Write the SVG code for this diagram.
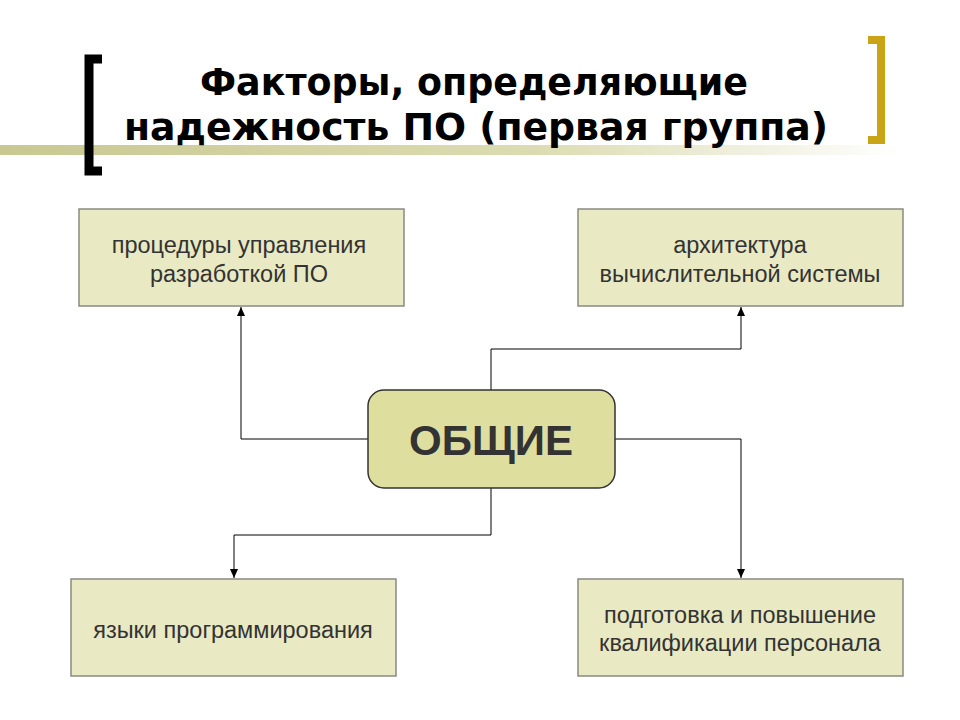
<svg xmlns="http://www.w3.org/2000/svg" width="960" height="720" viewBox="0 0 960 720">
<defs>
<linearGradient id="g" x1="0" x2="1" y1="0" y2="0"><stop offset="0" stop-color="#c8c890"/><stop offset="0.6" stop-color="#dcdcb4"/><stop offset="1" stop-color="#ffffff"/></linearGradient>
<marker id="a" markerWidth="10" markerHeight="10" refX="9" refY="5" orient="auto" markerUnits="userSpaceOnUse"><path d="M0,1 L9,5 L0,9 z" fill="#000"/></marker>
<style>
.box{fill:#e9e9c4;stroke:#8a8a80;stroke-width:1.5}
.t{font-family:"Liberation Sans",Arial,sans-serif;font-size:23.5px;fill:#333;text-anchor:middle}
.c{fill:none;stroke:#000;stroke-width:1;marker-end:url(#a)}
.h{font-family:"DejaVu Sans Condensed","DejaVu Sans",sans-serif;font-weight:bold;font-size:37px;fill:#000}
</style>
</defs>
<rect width="960" height="720" fill="#fff"/>
<rect x="0" y="145" width="900" height="10" fill="url(#g)"/>
<path d="M102,59 H89 V171 H102" fill="none" stroke="#000" stroke-width="9"/>
<path d="M868,40 H881 V140 H868" fill="none" stroke="#c9a417" stroke-width="8"/>
<text class="h" x="200" y="95" textLength="548" lengthAdjust="spacingAndGlyphs">Факторы, определяющие</text>
<text class="h" x="124" y="140" textLength="704" lengthAdjust="spacingAndGlyphs">надежность ПО (первая группа)</text>
<g id="connectors">
<path class="c" d="M368,439 H241 V307"/>
<path class="c" d="M491,390 V349 H741 V307"/>
<path class="c" d="M615,439 H741 V578"/>
<path class="c" d="M491,488 V535 H234 V578"/>
</g>
<g id="n1"><rect class="box" x="79" y="209" width="325" height="97"/><text class="t" x="239" y="253">процедуры управления</text><text class="t" x="239" y="282">разработкой ПО</text></g>
<g id="n2"><rect class="box" x="578" y="209" width="325" height="97"/><text class="t" x="740" y="253">архитектура</text><text class="t" x="740" y="282">вычислительной системы</text></g>
<g id="n3"><rect class="box" x="71" y="579" width="325" height="97"/><text class="t" x="233" y="638">языки программирования</text></g>
<g id="n4"><rect class="box" x="578" y="579" width="325" height="97"/><text class="t" x="740" y="623">подготовка и повышение</text><text class="t" x="740" y="651">квалификации персонала</text></g>
<g id="center"><rect x="368" y="390" width="247" height="98" rx="16" fill="#dede9e" stroke="#333" stroke-width="1.5"/><text x="491" y="455" text-anchor="middle" font-family="'Liberation Sans',Arial,sans-serif" font-weight="bold" font-size="42" fill="#333">ОБЩИЕ</text></g>
</svg>
